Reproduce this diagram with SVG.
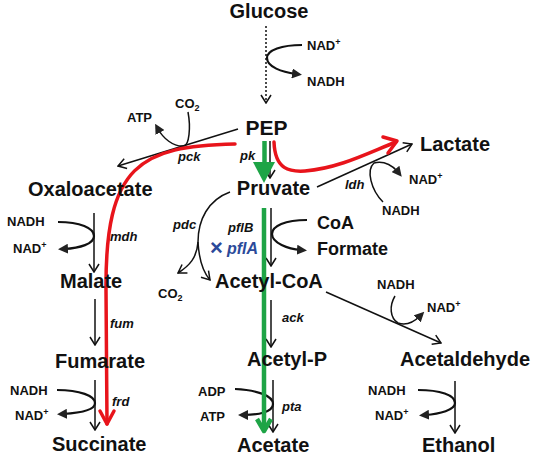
<svg xmlns="http://www.w3.org/2000/svg" width="536" height="463" viewBox="0 0 536 463">
<defs>
<style>
text{font-family:"Liberation Sans",Arial,sans-serif;font-weight:bold;fill:#111}
.m{font-size:20px}
.c{font-size:13px}
.e{font-size:13px;font-style:italic}
.sup{font-size:9px}
.ln{fill:none;stroke:#111;stroke-width:1.5}
.cf{fill:none;stroke:#111;stroke-width:2.2}
.red{fill:none;stroke:#e8141b;stroke-width:3.5;stroke-linecap:round;stroke-linejoin:round}
.grn{fill:none;stroke:#1ea446;stroke-width:4.5;stroke-linejoin:round}
</style>
<marker id="open" viewBox="0 0 10 12" refX="9" refY="6" markerWidth="10" markerHeight="12" markerUnits="userSpaceOnUse" orient="auto">
<path d="M1,1 L9,6 L1,11" fill="none" stroke="#111" stroke-width="1.5"/>
</marker>
<marker id="fill" viewBox="0 0 10 10" refX="4" refY="5" markerWidth="10" markerHeight="10" markerUnits="userSpaceOnUse" orient="auto">
<path d="M0,0 L10,5 L0,10 z" fill="#222"/>
</marker>
</defs>

<g id="connectors">
<line class="ln" x1="266" y1="26" x2="266" y2="103" stroke-dasharray="2,2" marker-end="url(#open)"/>
<path class="cf" d="M302,45 C282,45 267,50 267,58 C267,67 282,72 296,74" marker-end="url(#fill)"/>
<line class="ln" x1="238" y1="129" x2="118" y2="166" marker-end="url(#open)"/>
<path class="cf" style="stroke-width:1.5" d="M188,112 C191,128 189,145 184,146 C173,147 163,138 158,129" marker-end="url(#fill)"/>
<line class="ln" x1="270" y1="141" x2="270" y2="178" marker-end="url(#open)"/>
<line class="ln" x1="317" y1="187" x2="412" y2="144" marker-end="url(#open)"/>
<path class="cf" style="stroke-width:1.5" d="M383,202 C371,190 366,170 374,163 C385,160 394,167 398,172" marker-end="url(#fill)"/>
<line class="ln" x1="94" y1="213" x2="94" y2="272" marker-end="url(#open)"/>
<path class="cf" d="M58,222 C80,222 94,228 94,236 C94,244 80,248 64,249" marker-end="url(#fill)"/>
<line class="ln" x1="95" y1="299" x2="95" y2="345" marker-end="url(#open)"/>
<line class="ln" x1="95" y1="380" x2="95" y2="430" marker-end="url(#open)"/>
<path class="cf" d="M57,390 C80,390 95,396 95,403 C95,410 80,413 63,414" marker-end="url(#fill)"/>
<path class="ln" d="M230,192 C208,200 198,220 198,242"/>
<path class="ln" d="M198,242 C197,258 189,266 178,273" marker-end="url(#open)"/>
<path class="ln" d="M198,242 C199,260 203,272 210,280" marker-end="url(#open)"/>
<line class="ln" x1="271" y1="208" x2="271" y2="266" marker-end="url(#open)"/>
<path class="cf" d="M307,220 C285,220 272,226 272,234 C272,243 288,249 301,250" marker-end="url(#fill)"/>
<line class="ln" x1="326" y1="292" x2="441" y2="343" marker-end="url(#open)"/>
<path class="cf" style="stroke-width:1.5" d="M395,296 C389,306 390,318 398,323 C407,326 415,321 420,316" marker-end="url(#fill)"/>
<line class="ln" x1="455" y1="381" x2="455" y2="433" marker-end="url(#open)"/>
<path class="cf" d="M418,390 C440,390 455,395 455,403 C455,410 440,414 425,415" marker-end="url(#fill)"/>
<line class="ln" x1="271" y1="300" x2="271" y2="347" marker-end="url(#open)"/>
<line class="ln" x1="273" y1="380" x2="273" y2="432" marker-end="url(#open)"/>
<path class="cf" d="M235,389 C258,390 273,396 273,404 C273,412 258,415 244,415" marker-end="url(#fill)"/>
<path class="red" d="M235,144 C140,146 105,165 106,290 L107,424"/>
<polyline class="red" points="100,411 107,424 114,411"/>
<path class="red" d="M274,142 C275,170 290,172 305,171 C340,168 370,152 396,142"/>
<polyline class="red" points="383,137 397,141 388,153"/>
<line class="grn" x1="264.5" y1="141" x2="264.5" y2="166"/>
<polygon points="253,162 275,162 264,183" fill="#1ea446"/>
<line class="grn" x1="264" y1="208" x2="264" y2="428"/>
<polyline class="grn" points="257,419 264,431 271,419"/>
</g>

<g id="glucose"><text class="m" x="269" y="18" text-anchor="middle">Glucose</text></g>
<g id="nad1"><text class="c" x="307" y="50">NAD<tspan class="sup" dy="-5">+</tspan></text><text class="c" x="307" y="86">NADH</text></g>
<g id="pep"><text class="m" x="266.5" y="135" text-anchor="middle" style="font-size:21px">PEP</text></g>
<g id="pck-cof"><text class="c" x="127" y="122">ATP</text><text class="c" x="175" y="108">CO<tspan class="sup" dy="3">2</tspan></text></g>
<g id="pck"><text class="e" x="178" y="161">pck</text></g>
<g id="pk"><text class="e" x="240" y="160">pk</text></g>
<g id="lactate"><text class="m" x="420" y="151">Lactate</text></g>
<g id="ldh"><text class="e" x="345" y="189">ldh</text><text class="c" x="409" y="184">NAD<tspan class="sup" dy="-5">+</tspan></text><text class="c" x="382" y="215">NADH</text></g>
<g id="pruvate"><text class="m" x="273.5" y="195" text-anchor="middle">Pruvate</text></g>
<g id="oxaloacetate"><text class="m" x="28" y="196">Oxaloacetate</text></g>
<g id="mdh"><text class="c" x="7" y="226">NADH</text><text class="c" x="13" y="253">NAD<tspan class="sup" dy="-5">+</tspan></text><text class="e" x="110" y="241">mdh</text></g>
<g id="malate"><text class="m" x="60" y="288">Malate</text></g>
<g id="fum"><text class="e" x="110" y="328">fum</text></g>
<g id="fumarate"><text class="m" x="55" y="368">Fumarate</text></g>
<g id="frd"><text class="c" x="10" y="395">NADH</text><text class="c" x="15" y="420">NAD<tspan class="sup" dy="-5">+</tspan></text><text class="e" x="112" y="406">frd</text></g>
<g id="succinate"><text class="m" x="52" y="451">Succinate</text></g>
<g id="pdc"><text class="e" x="173" y="229">pdc</text><text class="c" x="158" y="298">CO<tspan class="sup" dy="3">2</tspan></text></g>
<g id="pfl"><text class="e" x="228" y="232">pflB</text><text x="210" y="255" style="font-size:22px;fill:#2b4a9a">×</text><text x="227" y="254" style="font-size:16px;font-style:italic;fill:#2b4a9a">pflA</text></g>
<g id="coa"><text class="m" x="317" y="229" style="font-size:18px">CoA</text><text class="m" x="317" y="255" style="font-size:18px">Formate</text></g>
<g id="acetylcoa"><text class="m" x="215" y="288">Acetyl-CoA</text></g>
<g id="adh1"><text class="c" x="377" y="289">NADH</text><text class="c" x="427" y="312">NAD<tspan class="sup" dy="-5">+</tspan></text></g>
<g id="acetaldehyde"><text class="m" x="400" y="366">Acetaldehyde</text></g>
<g id="adh2"><text class="c" x="368" y="395">NADH</text><text class="c" x="375" y="420">NAD<tspan class="sup" dy="-5">+</tspan></text></g>
<g id="ethanol"><text class="m" x="422" y="452">Ethanol</text></g>
<g id="ack"><text class="e" x="282" y="322">ack</text></g>
<g id="acetylp"><text class="m" x="247" y="366">Acetyl-P</text></g>
<g id="pta"><text class="c" x="198" y="396">ADP</text><text class="c" x="200" y="421">ATP</text><text class="e" x="282" y="411">pta</text></g>
<g id="acetate"><text class="m" x="237" y="452">Acetate</text></g>
</svg>
